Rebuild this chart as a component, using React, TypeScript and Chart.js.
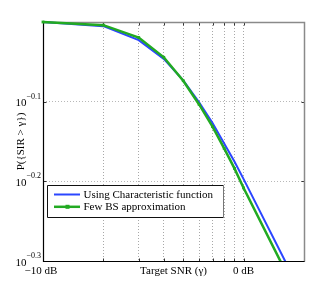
import React, { useEffect, useRef } from "react";
import { Chart, registerables } from "chart.js";

Chart.register(...registerables);

// ---- data ----
const xValues = [0.1, 0.2, 0.3, 0.4, 0.5, 0.6, 0.7, 0.8, 0.9, 1.0, 2.0];
const charFnValues = [1.0, 0.988, 0.949, 0.899, 0.845, 0.793, 0.747, 0.704, 0.668, 0.635, 0.45];
const fewBsValues = [1.0, 0.991, 0.956, 0.903, 0.844, 0.788, 0.739, 0.694, 0.655, 0.619, 0.4375];
const seriesLabels = ["Using Characteristic function", "Few BS approximation"];
const seriesColors = ["#2b46ff", "#22aa22"];

const xGridValues = [0.1, 0.2, 0.3, 0.4, 0.5, 0.6, 0.7, 0.8, 0.9, 1.0];
const xTickValues = [0.1, 1.0];
const xTickLabels = ["\u221210 dB", "0 dB"];
const yTickValues = [Math.pow(10, -0.1), Math.pow(10, -0.2), Math.pow(10, -0.3)];
const yTickExponents = ["\u22120.1", "\u22120.2", "\u22120.3"];
const xMin = 0.1;
const xMax = 2.0;
const yMin = Math.pow(10, -0.3);
const yMax = 1.0;
const xTitle = "Target SNR (\u03b3)";
const yTitle = "P({SIR > \u03b3})";

const FONT = '"Liberation Serif", "Times New Roman", serif';

const matlabPlugin = {
  id: "matlabStyle",
  beforeDatasetsDraw(chart: any) {
    const ctx = chart.ctx;
    const a = chart.chartArea;
    const xs = chart.scales.x;
    const ys = chart.scales.y;
    const L = Math.round(a.left) + 0.5;
    const R = Math.round(a.right) + 0.5;
    const T = Math.round(a.top) + 0.5;
    const B = Math.round(a.bottom) + 0.5;
    ctx.save();
    // tick marks (inward)
    ctx.strokeStyle = "#333";
    ctx.lineWidth = 1;
    ctx.beginPath();
    xGridValues.forEach((v) => {
      const px = Math.round(xs.getPixelForValue(v)) + 0.5;
      ctx.moveTo(px, B);
      ctx.lineTo(px, B - 3);
      ctx.moveTo(px, T);
      ctx.lineTo(px, T + 3);
    });
    yTickValues.forEach((v) => {
      const py = Math.round(ys.getPixelForValue(v)) + 0.5;
      ctx.moveTo(L, py);
      ctx.lineTo(L + 3, py);
      ctx.moveTo(R, py);
      ctx.lineTo(R - 3, py);
    });
    ctx.stroke();
    // top/right border gray
    ctx.strokeStyle = "#8a8a8a";
    ctx.lineWidth = 1.5;
    ctx.beginPath();
    ctx.moveTo(L, T);
    ctx.lineTo(R, T);
    ctx.lineTo(R, B);
    ctx.stroke();
    // left/bottom border black
    ctx.strokeStyle = "#000";
    ctx.lineWidth = 1.2;
    ctx.beginPath();
    ctx.moveTo(L, T);
    ctx.lineTo(L, B);
    ctx.lineTo(R, B);
    ctx.stroke();
    ctx.restore();
  },
  afterDraw(chart: any) {
    const ctx = chart.ctx;
    const a = chart.chartArea;
    const xs = chart.scales.x;
    const ys = chart.scales.y;
    ctx.save();
    ctx.fillStyle = "#000";
    // y tick labels with superscripts
    yTickValues.forEach((v, i) => {
      const py = ys.getPixelForValue(v);
      ctx.font = `8px ${FONT}`;
      ctx.textAlign = "right";
      ctx.textBaseline = "alphabetic";
      const supRight = a.left - 2;
      ctx.fillText(yTickExponents[i], supRight, py - 3);
      const w = ctx.measureText(yTickExponents[i]).width;
      ctx.font = `11px ${FONT}`;
      ctx.fillText("10", supRight - w, py + 4.5);
    });
    // x tick labels
    ctx.font = `11px ${FONT}`;
    ctx.textAlign = "center";
    ctx.textBaseline = "middle";
    xTickValues.forEach((v, i) => {
      const px = xs.getPixelForValue(v);
      ctx.fillText(xTickLabels[i], px - (i === 0 ? 2 : 0), a.bottom + 10);
    });
    // x title
    ctx.fillText(xTitle, (a.left + a.right) / 2, a.bottom + 10);
    // y title
    ctx.save();
    ctx.translate(21, (a.top + a.bottom) / 2);
    ctx.rotate(-Math.PI / 2);
    ctx.fillText(yTitle, 0, 0);
    ctx.restore();

    // legend
    const bx = 47.5, by = 185.5, bw = 176, bh = 32;
    ctx.fillStyle = "#fff";
    ctx.fillRect(bx, by, bw, bh);
    ctx.lineWidth = 1;
    ctx.strokeStyle = "#111";
    ctx.beginPath();
    ctx.moveTo(bx + bw, by);
    ctx.lineTo(bx, by);
    ctx.lineTo(bx, by + bh);
    ctx.lineTo(bx + bw, by + bh);
    ctx.stroke();
    ctx.strokeStyle = "#777";
    ctx.beginPath();
    ctx.moveTo(bx + bw, by);
    ctx.lineTo(bx + bw, by + bh);
    ctx.stroke();
    seriesLabels.forEach((lab, i) => {
      const ly = by + 9 + i * 12.3;
      ctx.strokeStyle = seriesColors[i];
      ctx.lineWidth = i === 1 ? 2.5 : 2;
      ctx.beginPath();
      ctx.moveTo(54, ly);
      ctx.lineTo(80, ly);
      ctx.stroke();
      if (i === 1) {
        ctx.fillStyle = seriesColors[i];
        ctx.fillRect(65.5, ly - 2, 4, 4);
      }
      ctx.fillStyle = "#000";
      ctx.font = `11px ${FONT}`;
      ctx.textAlign = "left";
      ctx.textBaseline = "middle";
      ctx.fillText(lab, 83.5, ly + 0.5);
    });
    ctx.restore();
  },
};

export default function App() {
  const ref = useRef<HTMLCanvasElement | null>(null);
  useEffect(() => {
    document.body.style.margin = "0";
    const canvas = ref.current!;
    const chart = new Chart(canvas, {
      type: "line",
      data: {
        datasets: [
          {
            label: seriesLabels[0],
            data: xValues.map((x, i) => ({ x, y: charFnValues[i] })),
            borderColor: seriesColors[0],
            backgroundColor: seriesColors[0],
            borderWidth: 2,
            pointRadius: 0,
            order: 1,
            clip: { left: 4, top: 4, right: 0, bottom: 0 } as any,
          },
          {
            label: seriesLabels[1],
            data: xValues.map((x, i) => ({ x, y: fewBsValues[i] })),
            borderColor: seriesColors[1],
            backgroundColor: seriesColors[1],
            borderWidth: 2.5,
            pointStyle: "rect",
            pointRadius: 2,
            pointBorderWidth: 0,
            order: 0,
            clip: { left: 4, top: 4, right: 0, bottom: 0 } as any,
          },
        ],
      },
      options: {
        animation: false,
        responsive: false,
        maintainAspectRatio: false,
        layout: { padding: { left: 43, top: 22, right: 32, bottom: 33 } },
        plugins: { legend: { display: false }, tooltip: { enabled: false } },
        scales: {
          x: {
            type: "logarithmic",
            min: xMin,
            max: xMax,
            afterBuildTicks: (s: any) => {
              s.ticks = xGridValues.map((v) => ({ value: v }));
            },
            ticks: { display: false },
            grid: { color: "#a8a8a8", lineWidth: 1, drawTicks: false },
            border: { display: false, dash: [1, 2] },
          },
          y: {
            type: "logarithmic",
            min: yMin,
            max: yMax,
            afterBuildTicks: (s: any) => {
              s.ticks = yTickValues.map((v) => ({ value: v }));
            },
            ticks: { display: false },
            grid: { color: "#b8b8b8", lineWidth: 1, drawTicks: false },
            border: { display: false, dash: [1, 2] },
          },
        },
      },
      plugins: [matlabPlugin],
    });
    return () => chart.destroy();
  }, []);
  return (
    <div style={{ position: "fixed", left: 0, top: 0, width: 336, height: 294, background: "#fff" }}>
      <canvas ref={ref} width={336} height={294} style={{ width: 336, height: 294 }} />
    </div>
  );
}
